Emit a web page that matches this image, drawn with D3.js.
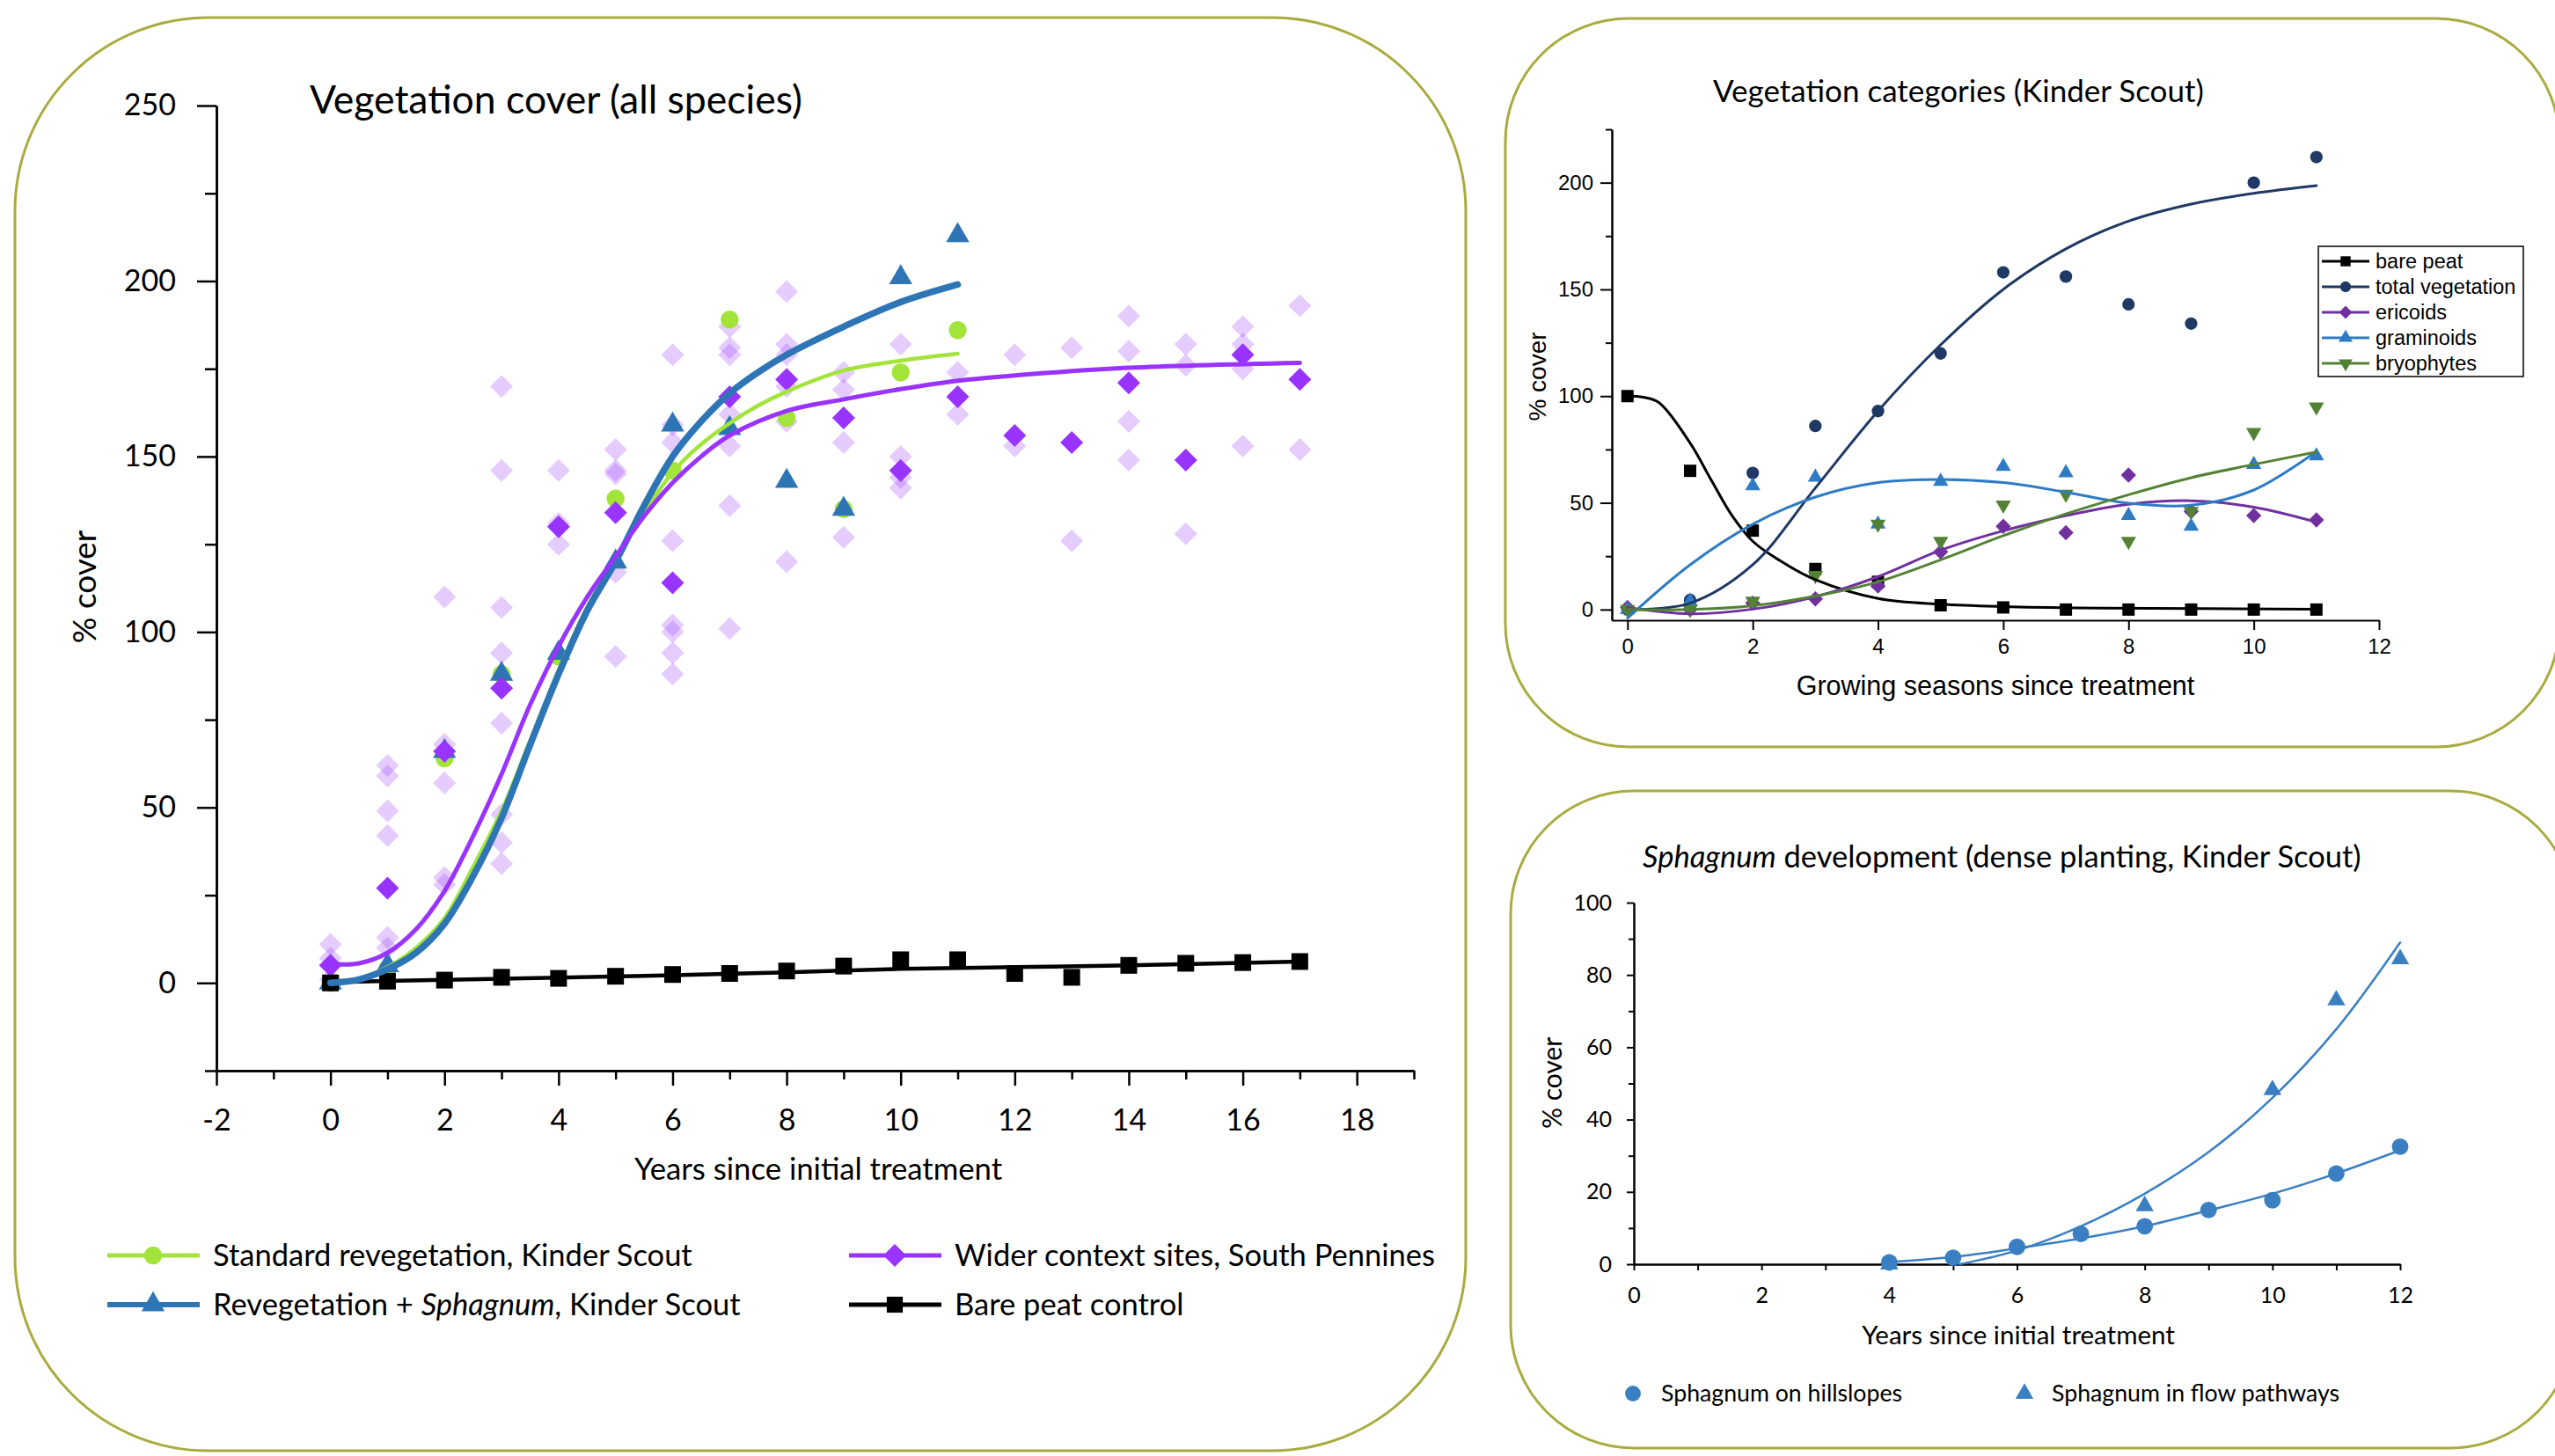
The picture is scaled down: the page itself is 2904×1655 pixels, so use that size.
<!DOCTYPE html>
<html>
<head>
<meta charset="utf-8">
<script src="https://cdn.jsdelivr.net/npm/d3@7"></script>
<style>
body { margin: 0; background: #fff; }
svg { display: block; }
</style>
</head>
<body>
<svg id="chart" width="2904" height="1655"></svg>
<script>
// ---- Vegetation cover (all species) ----
const coverYears = [0, 1, 2, 3, 4, 5, 6, 7, 8, 9, 10, 11, 12, 13, 14, 15, 16, 17];
const standardReveg = [0, 4, 64, 88, 93, 138, 146, 189, 161, 135, 174, 186];
const sphagnumReveg = [0, 5, 66, 88, 94, 120, 159, 158, 143, 135, 201, 213];
const widerContext = [5, 27, 66, 84, 130, 134, 114, 167, 172, 161, 146, 167, 156, 154, 171, 149, 179, 172];
const bareControl = [0, 0.5, 0.8, 1.6, 1.3, 1.9, 2.4, 2.7, 3.4, 4.8, 6.6, 6.6, 2.7, 1.6, 5, 5.6, 5.8, 6.1];
// individual wider context sites, one list per year
const siteValues = [
    [11, 7, 1],
    [62, 59, 49, 42, 13, 10],
    [110, 68, 57, 30, 28],
    [170, 146, 107, 94, 74, 48, 40, 34],
    [146, 131, 125],
    [152, 146, 145, 117, 93],
    [179, 159, 154, 126, 102, 100, 94, 88],
    [187, 181, 179, 162, 153, 136, 101],
    [197, 182, 179, 170, 160, 120],
    [174, 169, 154, 127],
    [182, 150, 144, 141],
    [174, 162],
    [179, 153],
    [181, 126],
    [190, 180, 160, 149],
    [182, 176, 128],
    [187, 182, 175, 153],
    [193, 152]
];
// fitted curves
const trendYears = [0, 0.5, 1, 1.5, 2, 2.5, 3, 3.5, 4, 4.5, 5, 5.5, 6, 6.5, 7, 7.5, 8, 9, 10, 11];
const standardTrend = [0, 1.2, 4.5, 10, 18.5, 33, 49, 69, 89, 107, 121, 134, 145.5, 153.5, 159.5, 164.5, 168.5, 174.5, 177.3, 179.3];
const sphagnumTrend = [0, 1, 3.9, 8.6, 16.9, 30.4, 47, 67.8, 88, 106, 120, 136, 150, 160, 168, 174, 179, 187, 194, 199];
const widerTrendYears = [0, 0.5, 1, 1.5, 2, 2.5, 3, 3.5, 4, 4.5, 5, 5.5, 6, 6.5, 7, 8, 9, 10, 11, 12, 14, 17];
const widerTrend = [5.4, 5.6, 8.6, 15.3, 26.2, 41.8, 59.5, 79.2, 95.9, 109.9, 121.5, 133, 142.5, 150, 156, 163, 166.3, 169.2, 171.6, 173.1, 175.3, 176.7];
const bareTrendYears = [0, 2, 4, 6, 8, 10, 12, 14, 17];
const bareTrend = [0.2, 0.9, 1.5, 2.2, 3.0, 4.0, 4.5, 5.0, 6.1];
const coverTicksY = [0, 50, 100, 150, 200, 250];
const coverMinorY = [-25, 25, 75, 125, 175, 225];
const coverTicksX = [-2, 0, 2, 4, 6, 8, 10, 12, 14, 16, 18];
const coverMinorX = [-1, 1, 3, 5, 7, 9, 11, 13, 15, 17, 19];

// ---- Vegetation categories (Kinder Scout) ----
const seasons = [0, 1, 2, 3, 4, 5, 6, 7, 8, 9, 10, 11];
const barePeat = [100, 65, 37, 19, 13, 2, 1, 0, 0, 0, 0, 0];
const totalVeg = [0, 4.5, 64, 86, 93, 120, 158, 156, 143, 134, 200, 212];
const ericoids = [1, 0, 3, 5, 11, 27, 39, 36, 63, 46, 44, 42];
const graminoids = [0, 4, 58, 62, 40, 60, 67, 64, 44, 39, 68, 72];
const bryophytes = [0, 0, 4, 16, 40, 32, 49, 54, 32, 46, 83, 95];
const bareFitX = [0, 0.25, 0.5, 1, 1.35, 1.67, 2, 2.43, 3, 4, 5, 6, 7.6, 11];
const bareFit = [100, 99.5, 97, 78, 60, 44, 32, 23, 14, 5.2, 2.5, 1.4, 0.7, 0.2];
const totalFit = [0, 3, 21, 57, 93, 124, 150, 169, 182, 190, 195, 198.6];
const ericoidFit = [1, -2, 0.2, 6, 15.4, 27.8, 36.9, 44, 49.3, 51, 48, 41];
const graminoidFit = [-4, 21, 40, 52.7, 59.5, 61, 59.5, 55, 49.8, 48.9, 56, 74];
const bryophyteFit = [0, 0, 1.8, 6.3, 13, 23.3, 34.6, 44.8, 53.8, 61.8, 68, 73.8];
const categoryNames = ["bare peat", "total vegetation", "ericoids", "graminoids", "bryophytes"];
const categoryTicksY = [0, 50, 100, 150, 200];
const categoryMinorY = [25, 75, 125, 175, 225];
const categoryTicksX = [0, 2, 4, 6, 8, 10, 12];

// ---- Sphagnum development ----
const hillYears = [4, 5, 6, 7, 8, 9, 10, 11, 12];
const hillslopes = [0.5, 1.8, 4.8, 8.4, 10.5, 15, 17.7, 25.1, 32.5];
const flowYears = [4, 8, 10, 11, 12];
const flowPathways = [0, 16.1, 48.2, 73, 84.4];
const hillFit = [0.6, 2, 4.4, 7.1, 10.5, 14.9, 19.5, 25.1, 31.5];
const flowFitX = [5.1, 6, 7, 8, 9, 10, 11, 12];
const flowFit = [0, 3.8, 10.5, 19.5, 31, 46, 65, 89];
const sphTicksY = [0, 20, 40, 60, 80, 100];
const sphMinorY = [10, 30, 50, 70, 90];
const sphTicksX = [0, 2, 4, 6, 8, 10, 12];
const sphMinorX = [1, 3, 5, 7, 9, 11];

const gill = "Lato, 'Noto Sans', sans-serif";
const arial = "'Liberation Sans', Arial, sans-serif";
const borderColor = "#a9ab3f";

const svg = d3.select("#chart");
svg.append("rect").attr("width", 2904).attr("height", 1655).attr("fill", "#fff");

function sym(type, size) {
    return d3.symbol().type(type).size(size)();
}

function styleAxis(g, font, size, width) {
    g.attr("font-family", font).attr("font-size", size);
    g.selectAll("path, line").attr("stroke", "#000").attr("stroke-width", width);
    g.selectAll("text").attr("fill", "#000");
}

function drawCurve(g, xs, ys, x, y, color, width) {
    g.append("path")
        .datum(xs.map(function(d, i) { return [d, ys[i]]; }))
        .attr("d", d3.line().x(function(d) { return x(d[0]); }).y(function(d) { return y(d[1]); }).curve(d3.curveCatmullRom))
        .attr("fill", "none")
        .attr("stroke", color)
        .attr("stroke-width", width)
        .attr("stroke-linecap", "round");
}

function drawMarkers(g, xs, ys, x, y, shape, size, color, rot) {
    g.selectAll(null)
        .data(ys)
        .enter()
        .append("path")
        .attr("d", sym(shape, size))
        .attr("transform", function(d, i) {
            return "translate(" + x(xs[i]) + "," + y(d) + ") rotate(" + (rot || 0) + ")";
        })
        .attr("fill", color);
}

// panels
svg.append("rect").attr("x", 17).attr("y", 20).attr("width", 1649).attr("height", 1629).attr("rx", 220)
    .attr("fill", "none").attr("stroke", borderColor).attr("stroke-width", 3);
svg.append("rect").attr("x", 1711).attr("y", 21).attr("width", 1198).attr("height", 828).attr("rx", 140)
    .attr("fill", "none").attr("stroke", borderColor).attr("stroke-width", 3);
svg.append("rect").attr("x", 1717).attr("y", 899).attr("width", 1208).attr("height", 747).attr("rx", 140)
    .attr("fill", "none").attr("stroke", borderColor).attr("stroke-width", 3);

// ================= left chart =================
const xL = d3.scaleLinear().domain([-2, 19]).range([246, 1607]);
const yL = d3.scaleLinear().domain([-25, 250]).range([1217, 120]);
const leftChart = svg.append("g");

var ax = leftChart.append("g").attr("transform", "translate(246,0)")
    .call(d3.axisLeft(yL).tickValues(coverMinorY).tickSize(13).tickFormat("").tickSizeOuter(0));
styleAxis(ax, gill, 34, 2.5);
ax = leftChart.append("g").attr("transform", "translate(246,0)")
    .call(d3.axisLeft(yL).tickValues(coverTicksY).tickSize(22).tickPadding(24).tickSizeOuter(0));
styleAxis(ax, gill, 34, 2.5);
ax = leftChart.append("g").attr("transform", "translate(0,1217)")
    .call(d3.axisBottom(xL).tickValues(coverMinorX).tickSize(10).tickFormat("").tickSizeOuter(0));
styleAxis(ax, gill, 34, 2.5);
ax = leftChart.append("g").attr("transform", "translate(0,1217)")
    .call(d3.axisBottom(xL).tickValues(coverTicksX).tickSize(17).tickPadding(27).tickSizeOuter(0)
        .tickFormat(function(d) { return String(d); }));
styleAxis(ax, gill, 34, 2.5);

leftChart.append("text").attr("x", 352).attr("y", 129).attr("font-family", gill).attr("font-size", 44.5)
    .text("Vegetation cover (all species)");
leftChart.append("text").attr("transform", "translate(109,667) rotate(-90)").attr("text-anchor", "middle")
    .attr("font-family", gill).attr("font-size", 37).text("% cover");
leftChart.append("text").attr("x", 930).attr("y", 1341).attr("text-anchor", "middle")
    .attr("font-family", gill).attr("font-size", 34.7).text("Years since initial treatment");

// individual sites (faded)
siteValues.forEach(function(vals, i) {
    leftChart.selectAll(null)
        .data(vals)
        .enter()
        .append("path")
        .attr("d", sym(d3.symbolSquare, 338))
        .attr("transform", function(d) { return "translate(" + xL(coverYears[i]) + "," + yL(d) + ") rotate(45)"; })
        .attr("fill", "#9933ff")
        .attr("fill-opacity", 0.25);
});

drawMarkers(leftChart, coverYears, standardReveg, xL, yL, d3.symbolCircle, 330, "#a3e43a");
drawMarkers(leftChart, coverYears, sphagnumReveg, xL, yL, d3.symbolTriangle, 300, "#2e75b6");
drawMarkers(leftChart, coverYears, widerContext, xL, yL, d3.symbolSquare, 338, "#9933ff", 45);
drawMarkers(leftChart, coverYears, bareControl, xL, yL, d3.symbolSquare, 361, "#000");

drawCurve(leftChart, bareTrendYears, bareTrend, xL, yL, "#000", 4.5);
drawCurve(leftChart, trendYears, standardTrend, xL, yL, "#a3e43a", 4.5);
drawCurve(leftChart, trendYears, sphagnumTrend, xL, yL, "#2e75b6", 7.5);
drawCurve(leftChart, widerTrendYears, widerTrend, xL, yL, "#9933ff", 5);

// legend
function legendItem(g, x, y, color, width, shape, size, rot, label, italicWord) {
    g.append("line").attr("x1", x).attr("x2", x + 105).attr("y1", y).attr("y2", y)
        .attr("stroke", color).attr("stroke-width", width);
    g.append("path").attr("d", sym(shape, size))
        .attr("transform", "translate(" + (x + 52) + "," + y + ") rotate(" + rot + ")")
        .attr("fill", color);
    var t = g.append("text").attr("x", x + 120).attr("y", y + 12)
        .attr("font-family", gill).attr("font-size", 34.5);
    if (italicWord) {
        t.append("tspan").text(label[0]);
        t.append("tspan").attr("font-style", "italic").text(italicWord);
        t.append("tspan").text(label[1]);
    } else {
        t.text(label);
    }
}
legendItem(leftChart, 122, 1427, "#a3e43a", 5, d3.symbolCircle, 330, 0, "Standard revegetation, Kinder Scout");
legendItem(leftChart, 122, 1483, "#2e75b6", 6, d3.symbolTriangle, 300, 0, ["Revegetation + ", ", Kinder Scout"], "Sphagnum");
legendItem(leftChart, 965, 1427, "#9933ff", 5, d3.symbolSquare, 338, 45, "Wider context sites, South Pennines");
legendItem(leftChart, 965, 1483, "#000", 5, d3.symbolSquare, 330, 0, "Bare peat control");

// ================= top right chart =================
const xT = d3.scaleLinear().domain([-0.25, 12]).range([1832, 2704]);
const yT = d3.scaleLinear().domain([-5, 225]).range([705, 147]);
const catChart = svg.append("g");

ax = catChart.append("g").attr("transform", "translate(1832,0)")
    .call(d3.axisLeft(yT).tickValues(categoryMinorY).tickSize(7).tickFormat("").tickSizeOuter(0));
styleAxis(ax, arial, 24, 2);
ax = catChart.append("g").attr("transform", "translate(1832,0)")
    .call(d3.axisLeft(yT).tickValues(categoryTicksY).tickSize(13).tickPadding(8).tickSizeOuter(0));
styleAxis(ax, arial, 24, 2);
ax = catChart.append("g").attr("transform", "translate(0,705)")
    .call(d3.axisBottom(xT).tickValues(categoryTicksX).tickSize(11).tickPadding(10).tickSizeOuter(0));
styleAxis(ax, arial, 24, 2);

catChart.append("text").attr("x", 1947).attr("y", 116).attr("font-family", gill).attr("font-size", 35)
    .text("Vegetation categories (Kinder Scout)");
catChart.append("text").attr("transform", "translate(1757,428) rotate(-90)").attr("text-anchor", "middle")
    .attr("font-family", arial).attr("font-size", 28).text("% cover");
catChart.append("text").attr("x", 2268).attr("y", 790).attr("text-anchor", "middle")
    .attr("font-family", arial).attr("font-size", 30.5).text("Growing seasons since treatment");

const catColors = ["#000", "#1f3864", "#7030a0", "#2e7bc4", "#548235"];
drawMarkers(catChart, seasons, barePeat, xT, yT, d3.symbolSquare, 196, catColors[0]);
drawMarkers(catChart, seasons, totalVeg, xT, yT, d3.symbolCircle, 160, catColors[1]);
drawMarkers(catChart, seasons, ericoids, xT, yT, d3.symbolSquare, 150, catColors[2], 45);
drawMarkers(catChart, seasons, graminoids, xT, yT, d3.symbolTriangle, 130, catColors[3]);
drawMarkers(catChart, seasons, bryophytes, xT, yT, d3.symbolTriangle, 130, catColors[4], 180);

drawCurve(catChart, bareFitX, bareFit, xT, yT, catColors[0], 3);
drawCurve(catChart, seasons, totalFit, xT, yT, catColors[1], 3);
drawCurve(catChart, seasons, ericoidFit, xT, yT, catColors[2], 3);
drawCurve(catChart, seasons, graminoidFit, xT, yT, catColors[3], 3);
drawCurve(catChart, seasons, bryophyteFit, xT, yT, catColors[4], 3);

const legT = catChart.append("g");
legT.append("rect").attr("x", 2635).attr("y", 280).attr("width", 233).attr("height", 148)
    .attr("fill", "#fff").attr("stroke", "#000").attr("stroke-width", 1.5);
const catShapes = [d3.symbolSquare, d3.symbolCircle, d3.symbolSquare, d3.symbolTriangle, d3.symbolTriangle];
const catRot = [0, 0, 45, 0, 180];
const catSizes = [130, 120, 110, 110, 110];
categoryNames.forEach(function(name, i) {
    var y = 297 + i * 29;
    legT.append("line").attr("x1", 2639).attr("x2", 2693).attr("y1", y).attr("y2", y)
        .attr("stroke", catColors[i]).attr("stroke-width", 3);
    legT.append("path").attr("d", sym(catShapes[i], catSizes[i]))
        .attr("transform", "translate(2666," + y + ") rotate(" + catRot[i] + ")")
        .attr("fill", catColors[i]);
    legT.append("text").attr("x", 2700).attr("y", y + 8).attr("font-family", arial).attr("font-size", 23.5)
        .text(name);
});

// ================= bottom right chart =================
const xB = d3.scaleLinear().domain([0, 12]).range([1857, 2728]);
const yB = d3.scaleLinear().domain([0, 100]).range([1437, 1026]);
const sphChart = svg.append("g");

ax = sphChart.append("g").attr("transform", "translate(1857,0)")
    .call(d3.axisLeft(yB).tickValues(sphMinorY).tickSize(6).tickFormat("").tickSizeOuter(0));
styleAxis(ax, gill, 25, 2);
ax = sphChart.append("g").attr("transform", "translate(1857,0)")
    .call(d3.axisLeft(yB).tickValues(sphTicksY).tickSize(8).tickPadding(17).tickSizeOuter(0));
styleAxis(ax, gill, 25, 2);
ax = sphChart.append("g").attr("transform", "translate(0,1437)")
    .call(d3.axisBottom(xB).tickValues(sphMinorX).tickSize(7).tickFormat("").tickSizeOuter(0));
styleAxis(ax, gill, 25, 2);
ax = sphChart.append("g").attr("transform", "translate(0,1437)")
    .call(d3.axisBottom(xB).tickValues(sphTicksX).tickSize(7).tickPadding(19).tickSizeOuter(0));
styleAxis(ax, gill, 25, 2);

var bt = sphChart.append("text").attr("x", 1867).attr("y", 986).attr("font-family", gill).attr("font-size", 34.5);
bt.append("tspan").attr("font-style", "italic").text("Sphagnum");
bt.append("tspan").text(" development (dense planting, Kinder Scout)");
sphChart.append("text").attr("transform", "translate(1775,1231) rotate(-90)").attr("text-anchor", "middle")
    .attr("font-family", gill).attr("font-size", 30).text("% cover");
sphChart.append("text").attr("x", 2294).attr("y", 1528).attr("text-anchor", "middle")
    .attr("font-family", gill).attr("font-size", 29.5).text("Years since initial treatment");

const sphColor = "#3a7fc1";
drawMarkers(sphChart, hillYears, hillslopes, xB, yB, d3.symbolCircle, 280, sphColor);
drawMarkers(sphChart, flowYears, flowPathways, xB, yB, d3.symbolTriangle, 180, sphColor);
drawCurve(sphChart, hillYears, hillFit, xB, yB, sphColor, 2.5);
drawCurve(sphChart, flowFitX, flowFit, xB, yB, sphColor, 2.5);

sphChart.append("path").attr("d", sym(d3.symbolCircle, 250)).attr("transform", "translate(1856,1584)").attr("fill", sphColor);
sphChart.append("text").attr("x", 1888).attr("y", 1593).attr("font-family", gill).attr("font-size", 26.7).text("Sphagnum on hillslopes");
sphChart.append("path").attr("d", sym(d3.symbolTriangle, 180)).attr("transform", "translate(2301,1584)").attr("fill", sphColor);
sphChart.append("text").attr("x", 2332).attr("y", 1593).attr("font-family", gill).attr("font-size", 26.7).text("Sphagnum in flow pathways");
</script>
</body>
</html>
